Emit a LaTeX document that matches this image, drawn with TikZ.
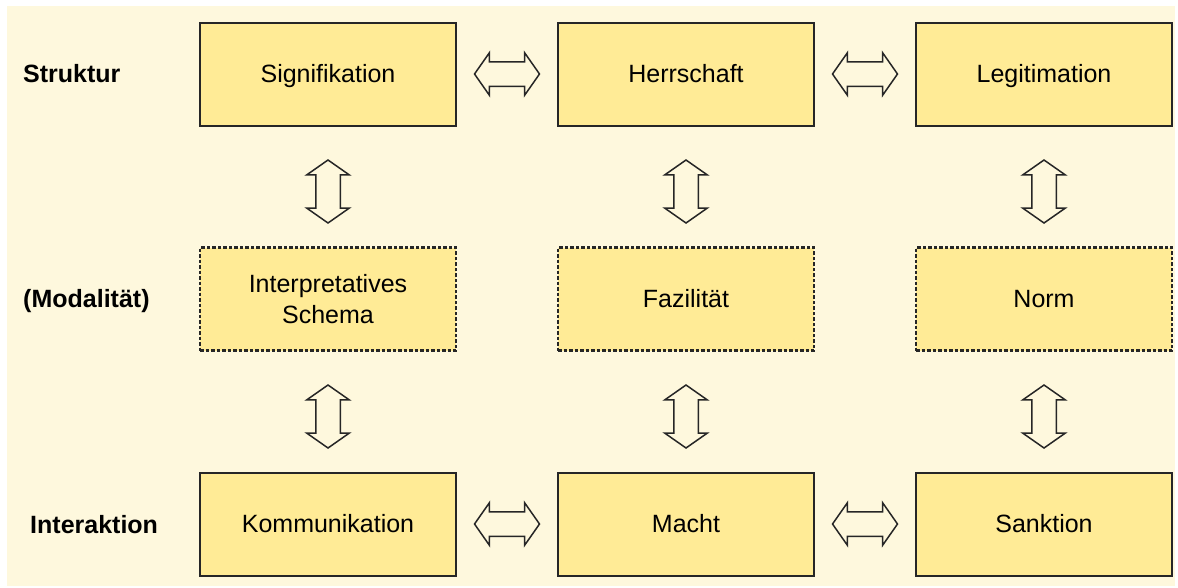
\documentclass[tikz,border=0pt]{standalone}
\usepackage{fontspec}
\setmainfont{Liberation Sans}
\usetikzlibrary{positioning,shapes.arrows,calc}
\definecolor{creme}{HTML}{FEF8DD}
\definecolor{boxgelb}{HTML}{FFEB96}
\tikzset{
  ebene/.style={shape=rectangle,draw=black!85,line width=2pt,fill=boxgelb,
    minimum width=256pt,minimum height=103pt,outer sep=0pt,inner sep=2pt,
    align=center,font=\fontsize{25}{31}\selectfont},
  einzeilig/.style={text height=18pt,text depth=1pt},
  modal/.style={ebene,line width=2.4pt,dash pattern=on 3.5pt off 2pt},
  zeile/.style={anchor=west,inner sep=0pt,font=\fontsize{25}{30}\selectfont\bfseries},
  pfeil/.style={double arrow,draw=black!85,line width=1.5pt,fill=creme,
    inner xsep=0pt,inner ysep=11.5pt,double arrow head extend=9pt,
    double arrow tip angle=110},
  hpfeil/.style={pfeil,minimum height=65pt},
  vpfeil/.style={pfeil,minimum height=63pt,rotate=90,xshift=-5pt}
}

\begin{document}
\begin{tikzpicture}[x=1pt,y=1pt,node distance=122pt and 102pt]
      \useasboundingbox (0,0) rectangle (1178,-587);
      \fill[white] (0,0) rectangle (1178,-587);
      \fill[creme] (7,-6) rectangle (1175,-586);
      % Ebenen
      \node[ebene,einzeilig] (sig) at (328,-74) {Signifikation};
      \node[ebene,einzeilig,right=of sig] (herr) {Herrschaft};
      \node[ebene,einzeilig,right=of herr] (leg) {Legitimation};
      \node[modal,below=of sig] (interp) {Interpretatives\\Schema};
      \node[modal,einzeilig,below=of herr] (faz) {Fazilität};
      \node[modal,einzeilig,below=of leg] (norm) {Norm};
      \node[ebene,einzeilig,below=of interp] (komm) {Kommunikation};
      \node[ebene,einzeilig,below=of faz] (macht) {Macht};
      \node[ebene,einzeilig,below=of norm] (sank) {Sanktion};
      % Zeilen
      \node[zeile] (struktur) at (23,-74) {Struktur};
      \node[zeile] (modalitaet) at (23,-301) {(Modalität)};
      \node[zeile] (interaktion) at (30,-525) {Interaktion};
      % Pfeile
      \node[hpfeil] (p1) at ($(sig.east)!.5!(herr.west)$) {};
      \node[hpfeil] (p2) at ($(herr.east)!.5!(leg.west)$) {};
      \node[hpfeil] (p3) at ($(komm.east)!.5!(macht.west)$) {};
      \node[hpfeil] (p4) at ($(macht.east)!.5!(sank.west)$) {};
      \node[vpfeil] (v1) at ($(sig.south)!.5!(interp.north)$) {};
      \node[vpfeil] (v2) at ($(herr.south)!.5!(faz.north)$) {};
      \node[vpfeil] (v3) at ($(leg.south)!.5!(norm.north)$) {};
      \node[vpfeil] (v4) at ($(interp.south)!.5!(komm.north)$) {};
      \node[vpfeil] (v5) at ($(faz.south)!.5!(macht.north)$) {};
      \node[vpfeil] (v6) at ($(norm.south)!.5!(sank.north)$) {};
    \end{tikzpicture}
\end{document}
